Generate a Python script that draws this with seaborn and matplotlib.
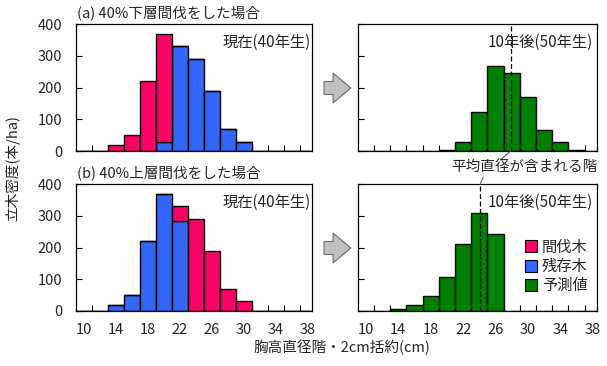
"""
plot.py - 間伐前後の直径階分布（現在と10年後の予測）
"""

import matplotlib

matplotlib.use("Agg")

import matplotlib.pyplot as plt
import matplotlib.patches as mpatches
from matplotlib.lines import Line2D
import numpy as np
import pandas as pd
import seaborn as sns


# 直径階 (2cm括約)
DBH_NOW = [14, 16, 18, 20, 22, 24, 26, 28, 30]
# (a) 40%下層間伐
A_CUT = [18, 50, 220, 338, 0, 0, 0, 0, 0]
A_LEFT = [0, 0, 0, 30, 330, 290, 190, 68, 30]
# (b) 40%上層間伐
B_LEFT = [18, 50, 220, 368, 285, 0, 0, 0, 0]
B_CUT = [0, 0, 0, 0, 45, 290, 190, 68, 30]

# 10年後の予測
DBH_PRED_A = [20, 22, 24, 26, 28, 30, 32, 34, 36]
PRED_A = [2, 30, 122, 267, 245, 170, 65, 27, 2]
DBH_PRED_B = [14, 16, 18, 20, 22, 24, 26]
PRED_B = [5, 18, 47, 106, 210, 310, 242]

MEAN_A = 27.9
MEAN_B = 24.1

X_TICKS = [10, 14, 18, 22, 26, 30, 34, 38]
Y_TICKS = [0, 100, 200, 300, 400]

LABEL_CUT = "間伐木"
LABEL_LEFT = "残存木"
LABEL_PRED = "予測値"
COLORS = {LABEL_CUT: "#FF0066", LABEL_LEFT: "#3366FF", LABEL_PRED: "#008000"}


def long_frame(dbh, series):
    parts = []
    for name, vals in series.items():
        parts.append(pd.DataFrame({"dbh": dbh, "n": vals, "kind": name}))
    return pd.concat(parts, ignore_index=True)


def draw_hist(ax, df, hue_order):
    sns.histplot(
        data=df, x="dbh", weights="n", hue="kind", hue_order=hue_order,
        binwidth=2, binrange=(9, 39), multiple="stack", palette=COLORS, alpha=1,
        edgecolor="black", linewidth=1.0, legend=False, ax=ax,
    )


def style_axes(ax, left_labels, bottom_labels):
    ax.set_xlim(9, 38.5)
    ax.set_ylim(0, 400)
    ax.set_xlabel("")
    ax.set_ylabel("")
    ax.set_yticks(Y_TICKS)
    ax.set_xticks(X_TICKS)
    ax.set_xticks(np.arange(11, 38, 2), minor=True)
    ax.tick_params(axis="x", which="major", bottom=True, length=0, pad=9, labelsize=10.5)
    ax.tick_params(axis="x", which="minor", bottom=True, direction="in", length=4,
                   width=0.8, color="black")
    ax.tick_params(axis="y", left=True, direction="in", length=4, width=0.8,
                   color="black", pad=10, labelsize=10.5)
    if not left_labels:
        ax.set_yticklabels([])
    if not bottom_labels:
        ax.set_xticklabels([])
    for sp in ax.spines.values():
        sp.set_visible(True)
        sp.set_linewidth(0.9)
        sp.set_color("black")


sns.set_style("white")
plt.rcParams["font.family"] = ["Noto Sans CJK JP", "DejaVu Sans"]

fig = plt.figure(figsize=(6.07, 3.66), dpi=100)
ax_tl = fig.add_axes([0.1252, 0.5874, 0.388, 0.3462])
ax_tr = fig.add_axes([0.5893, 0.5874, 0.394, 0.3462])
ax_bl = fig.add_axes([0.1252, 0.1503, 0.388, 0.3462])
ax_br = fig.add_axes([0.5893, 0.1503, 0.394, 0.3462])

draw_hist(ax_tl, long_frame(DBH_NOW, {LABEL_CUT: A_CUT, LABEL_LEFT: A_LEFT}), [LABEL_CUT, LABEL_LEFT])
draw_hist(ax_bl, long_frame(DBH_NOW, {LABEL_CUT: B_CUT, LABEL_LEFT: B_LEFT}), [LABEL_CUT, LABEL_LEFT])
draw_hist(ax_tr, long_frame(DBH_PRED_A, {LABEL_PRED: PRED_A}), [LABEL_PRED])
draw_hist(ax_br, long_frame(DBH_PRED_B, {LABEL_PRED: PRED_B}), [LABEL_PRED])

style_axes(ax_tl, True, False)
style_axes(ax_tr, False, False)
style_axes(ax_bl, True, True)
style_axes(ax_br, False, True)

for ax in (ax_tl, ax_bl):
    ax.text(0.995, 0.86, "現在(40年生)", transform=ax.transAxes,
            ha="right", va="center", fontsize=11)
for ax in (ax_tr, ax_br):
    ax.text(0.985, 0.86, "10年後(50年生)", transform=ax.transAxes,
            ha="right", va="center", fontsize=11)

ax_tl.text(0.005, 1.03, "(a) 40%下層間伐をした場合", transform=ax_tl.transAxes,
           ha="left", va="bottom", fontsize=10.5)
ax_bl.text(0.005, 1.03, "(b) 40%上層間伐をした場合", transform=ax_bl.transAxes,
           ha="left", va="bottom", fontsize=10.5)

# 平均直径の階
ax_tr.axvline(MEAN_A, color="black", linestyle=(0, (4, 2)), linewidth=0.9)
ax_br.axvline(MEAN_B, color="black", linestyle=(0, (4, 2)), linewidth=0.9)
fig.text(0.984, 0.543, "平均直径が含まれる階", ha="right", va="center", fontsize=10.5)
ax_tr.annotate("", xy=(MEAN_A, 0), xycoords="data", xytext=(0.824, 0.563),
               textcoords="figure fraction", annotation_clip=False,
               arrowprops=dict(arrowstyle="-", color="#606060", lw=0.8,
                               shrinkA=0, shrinkB=0))
ax_br.annotate("", xy=(MEAN_B, 400), xycoords="data", xytext=(0.796, 0.516),
               textcoords="figure fraction", annotation_clip=False,
               arrowprops=dict(arrowstyle="-", color="#606060", lw=0.8,
                               shrinkA=0, shrinkB=0))

# 矢印
for yc in (2.78, 1.18):
    arrow = mpatches.FancyArrow(3.24, yc, 0.27, 0, width=0.13, head_width=0.30,
                                head_length=0.18, length_includes_head=True,
                                facecolor="#C0C0C0", edgecolor="#707070", linewidth=0.8,
                                transform=fig.dpi_scale_trans)
    fig.patches.append(arrow)

# 凡例
handles = [
    Line2D([], [], linestyle="none", marker="s", markersize=9,
           markerfacecolor=COLORS[k], markeredgecolor="black", markeredgewidth=0.8, label=k)
    for k in (LABEL_CUT, LABEL_LEFT, LABEL_PRED)
]
ax_br.legend(handles=handles, loc="lower right", bbox_to_anchor=(1.0, 0.06),
             frameon=False, fontsize=11, handlelength=0.8, handletextpad=0.3,
             labelspacing=0.15, borderaxespad=0.2)

fig.text(0.008, 0.54, "立木密度(本/ha)", rotation=90,
         ha="left", va="center", fontsize=10.5)
fig.text(0.563, 0.052, "胸高直径階・2cm括約(cm)", ha="center", va="center", fontsize=10.5)

fig.savefig("out.png", dpi=100)
